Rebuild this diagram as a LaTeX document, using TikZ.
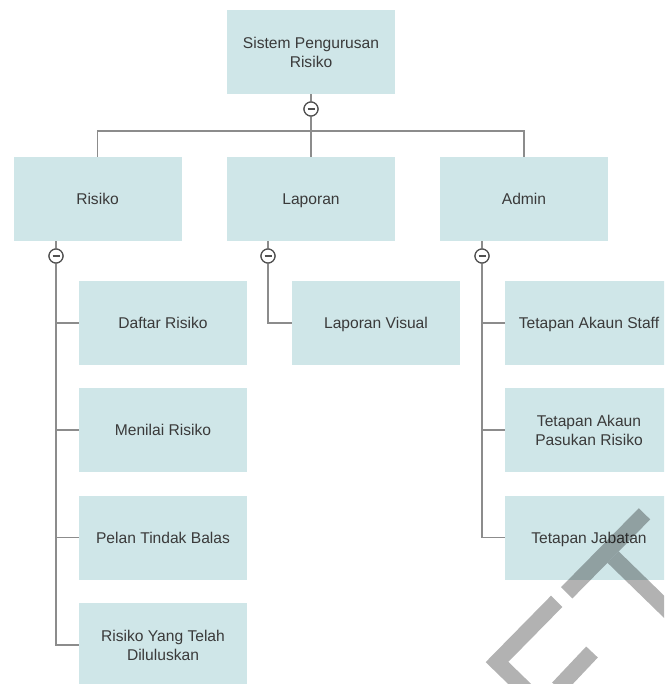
\documentclass[tikz,border=0pt]{standalone}
\usepackage{fontspec}
\setmainfont{Liberation Sans}
\definecolor{boxfill}{RGB}{207,230,232}
\definecolor{textcol}{RGB}{58,58,58}
\definecolor{linecol}{RGB}{140,140,140}
\definecolor{togglecol}{RGB}{80,80,80}
\begin{document}
\begin{tikzpicture}[x=1pt,y=-1pt,
  box/.style={fill=boxfill, draw=none, minimum width=168pt, minimum height=84pt,
    inner sep=0pt, align=center, text=textcol, text height=14pt, text depth=2.8pt,
    font=\fontsize{15.6}{19}\selectfont},
  boxtwo/.style={box, text height=, text depth=},
  link/.style={draw=linecol, line width=1.6pt},
  toggle/.style={circle, draw=togglecol, fill=white, line width=1.2pt,
    minimum size=14pt, inner sep=0pt,
    path picture={\draw[togglecol, line width=1.6pt]
      ([xshift=-3.5pt]path picture bounding box.center) --
      ([xshift=3.5pt]path picture bounding box.center);}},
  wmark/.style={draw=black, opacity=0.3, line width=16pt, line cap=butt, line join=miter}]
\clip (0,0) rectangle (664,684);

% boxes
\node[boxtwo] (root) at (311,52) {Sistem Pengurusan\\Risiko};
\node[box] (risiko) at (97.5,199) {Risiko};
\node[box] (laporan) at (311,199) {Laporan};
\node[box] (admin) at (524,199) {Admin};

\node[box] (r1) at (163,323) {Daftar Risiko};
\node[box] (r2) at (163,430) {Menilai Risiko};
\node[box] (r3) at (163,537.5) {Pelan Tindak Balas};
\node[boxtwo] (r4) at (163,645) {Risiko Yang Telah\\Diluluskan};

\node[box] (l1) at (376,323) {Laporan Visual};

\node[box] (a1) at (589,323) {Tetapan Akaun Staff};
\node[boxtwo] (a2) at (589,430) {Tetapan Akaun\\Pasukan Risiko};
\node[box] (a3) at (589,537.5) {Tetapan Jabatan};

% toggles (positions)
\node[toggle] (t0) at (311,109) {};
\node[toggle] (t1) at (56,256) {};
\node[toggle] (t2) at (268,256) {};
\node[toggle] (t3) at (482,256) {};
\coordinate (bus) at (311,131);

% connectors
\draw[link] (root) -- (t0);
\draw[link] (t0) -- (bus);
\draw[link] (risiko.north) -- (risiko.north |- bus) -- (admin.north |- bus) -- (admin.north);
\draw[link] (bus) -- (laporan.north);

\draw[link] (risiko.south -| t1) -- (t1);
\draw[link] (t1) |- (r4.west);
\draw[link] (r1.west) -- (r1.west -| t1);
\draw[link] (r2.west) -- (r2.west -| t1);
\draw[link] (r3.west) -- (r3.west -| t1);

\draw[link] (laporan.south -| t2) -- (t2);
\draw[link] (t2) |- (l1.west);

\draw[link] (admin.south -| t3) -- (t3);
\draw[link] (t3) |- (a3.west);
\draw[link] (a1.west) -- (a1.west -| t3);
\draw[link] (a2.west) -- (a2.west -| t3);

% redraw toggles on top of lines
\node[toggle] at (t0) {};
\node[toggle] at (t1) {};
\node[toggle] at (t2) {};
\node[toggle] at (t3) {};

% watermark strokes
\draw[wmark] (644.5,513.8) -- (566.7,592.8);
\draw[wmark] (613.2,557.2) -- (690,632);
\draw[wmark] (556.7,601.3) -- (497,662) -- (530,694);
\draw[wmark] (592,652) -- (558,688);
\end{tikzpicture}
\end{document}
